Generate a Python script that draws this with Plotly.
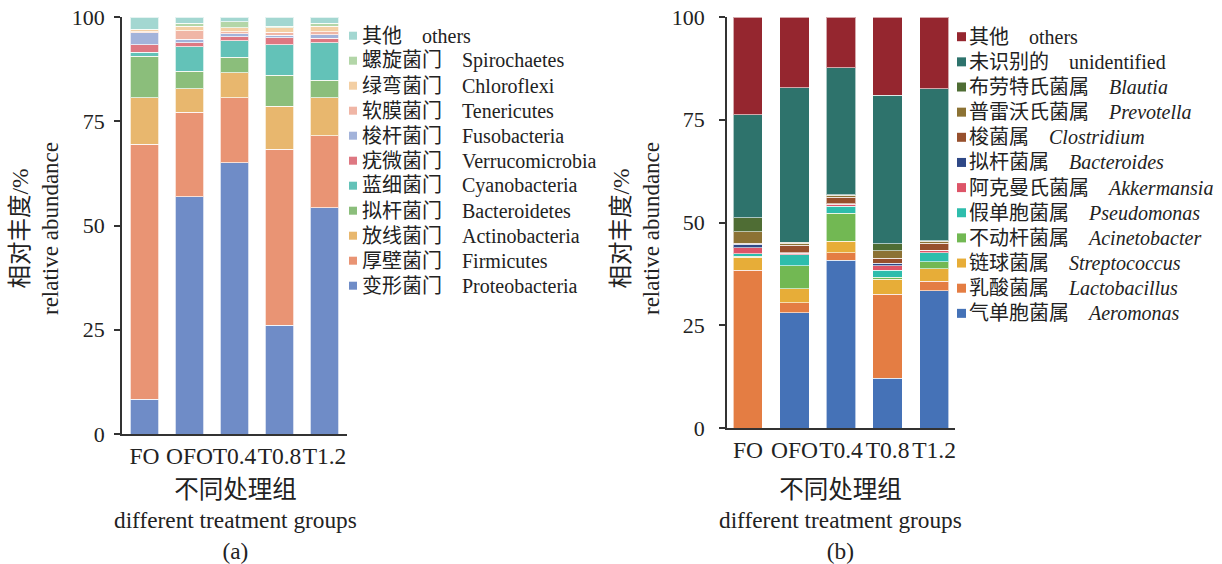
import plotly.graph_objects as go

W, H = 1222, 564

groups = ["FO", "OFO", "T0.4", "T0.8", "T1.2"]

# ---- panel (a): phyla, bottom -> top ----
phyla_cn = ["变形菌门", "厚壁菌门", "放线菌门", "拟杆菌门", "蓝细菌门", "疣微菌门",
            "梭杆菌门", "软膜菌门", "绿弯菌门", "螺旋菌门", "其他"]
phyla_en = ["Proteobacteria", "Firmicutes", "Actinobacteria", "Bacteroidetes",
            "Cyanobacteria", "Verrucomicrobia", "Fusobacteria", "Tenericutes",
            "Chloroflexi", "Spirochaetes", "others"]
proteobacteria = [8.3, 56.9, 65.1, 26.1, 54.3]
firmicutes = [61.2, 20.3, 15.5, 42.2, 17.2]
actinobacteria = [11.1, 5.6, 6.0, 10.3, 9.1]
bacteroidetes = [10.0, 4.2, 3.7, 7.4, 4.2]
cyanobacteria = [1.0, 5.9, 4.0, 7.4, 9.0]
verrucomicrobia = [1.8, 0.9, 1.0, 1.6, 1.1]
fusobacteria = [2.8, 0.9, 0.7, 0.6, 0.9]
tenericutes = [0.3, 2.0, 0.5, 0.8, 0.7]
chloroflexi = [0.4, 1.1, 0.9, 1.0, 1.3]
spirochaetes = [0.2, 0.7, 1.5, 0.4, 0.7]
others_a = [2.9, 1.5, 1.1, 2.2, 1.5]
phyla_vals = [proteobacteria, firmicutes, actinobacteria, bacteroidetes, cyanobacteria,
              verrucomicrobia, fusobacteria, tenericutes, chloroflexi, spirochaetes, others_a]
phyla_colors = ["#6F8CC7", "#E99474", "#E8B76E", "#8BBE7B", "#63C2B8", "#DE7882",
                "#A3B3DA", "#F0B6A6", "#F3CFA4", "#B3D6A8", "#A3D7D1"]

# ---- panel (b): genera, bottom -> top ----
genus_cn = ["气单胞菌属", "乳酸菌属", "链球菌属", "不动杆菌属", "假单胞菌属", "阿克曼氏菌属",
            "拟杆菌属", "梭菌属", "普雷沃氏菌属", "布劳特氏菌属", "未识别的", "其他"]
genus_en = ["<i>Aeromonas</i>", "<i>Lactobacillus</i>", "<i>Streptococcus</i>",
            "<i>Acinetobacter</i>", "<i>Pseudomonas</i>", "<i>Akkermansia</i>",
            "<i>Bacteroides</i>", "<i>Clostridium</i>", "<i>Prevotella</i>",
            "<i>Blautia</i>", "unidentified", "others"]
aeromonas = [0.0, 28.1, 40.8, 12.1, 33.4]
lactobacillus = [38.4, 2.4, 1.8, 20.5, 2.3]
streptococcus = [3.2, 3.4, 2.9, 3.6, 3.0]
acinetobacter = [0.2, 5.6, 6.8, 0.5, 1.7]
pseudomonas = [0.6, 2.6, 1.6, 1.7, 2.2]
akkermansia = [1.4, 0.4, 0.5, 1.1, 0.6]
bacteroides = [0.9, 0.1, 0.2, 0.6, 0.1]
clostridium = [0.3, 1.9, 1.6, 1.2, 1.7]
prevotella = [2.8, 0.5, 0.4, 1.8, 0.5]
blautia = [3.4, 0.2, 0.2, 1.7, 0.1]
unidentified = [25.0, 37.6, 30.8, 36.2, 36.9]
others_b = [23.8, 17.2, 12.4, 19.0, 17.5]
genus_vals = [aeromonas, lactobacillus, streptococcus, acinetobacter, pseudomonas,
              akkermansia, bacteroides, clostridium, prevotella, blautia,
              unidentified, others_b]
genus_colors = ["#4572B7", "#E47D43", "#E7AD38", "#72B853", "#2EBDAC", "#DD5568",
                "#2F4886", "#97502D", "#8C7234", "#4F6D34", "#2E736C", "#95262F"]

FONT = "Liberation Serif, Noto Sans CJK SC, serif"

fig = go.Figure()
for vals, col, en in zip(phyla_vals, phyla_colors, phyla_en):
    fig.add_trace(go.Bar(x=groups, y=vals, name=en, marker_color=col,
                         marker_line=dict(color="rgba(255,255,255,0.7)", width=1),
                         xaxis="x", yaxis="y", showlegend=False))
for vals, col, en in zip(genus_vals, genus_colors, genus_en):
    fig.add_trace(go.Bar(x=groups, y=vals, name=en, marker_color=col,
                         marker_line=dict(color="rgba(255,255,255,0.6)", width=1),
                         xaxis="x2", yaxis="y2", showlegend=False))

def px_x(p):
    return p / W

def px_y(p):
    return 1 - p / H

axis_common = dict(showline=True, linecolor="#333333", linewidth=1.5, showgrid=False,
                   zeroline=False, automargin=False)
xfont = dict(family=FONT, size=23.5, color="#222222")
yfont = dict(family=FONT, size=22, color="#222222")

fig.update_layout(
    width=W, height=H, margin=dict(l=0, r=0, t=0, b=0, autoexpand=False),
    paper_bgcolor="white", plot_bgcolor="white",
    barmode="stack", bargap=0.375,
    font=dict(family=FONT, color="#222222"),
    xaxis=dict(domain=[px_x(122), px_x(347)], range=[-0.5, 4.5], ticks="", tickangle=0,
               anchor="y", tickfont=xfont, **axis_common),
    yaxis=dict(domain=[px_y(434), px_y(17)], range=[0, 100], tickvals=[0, 25, 50, 75, 100],
               ticks="outside", ticklen=6, tickwidth=1.5, tickcolor="#333333",
               ticklabelstandoff=5, anchor="x", tickfont=yfont, **axis_common),
    xaxis2=dict(domain=[px_x(727), px_x(955)], range=[-0.45, 4.45], ticks="", tickangle=0,
                anchor="y2", tickfont=xfont, **axis_common),
    yaxis2=dict(domain=[px_y(428), px_y(17)], range=[0, 100], tickvals=[0, 25, 50, 75, 100],
                ticks="outside", ticklen=6, tickwidth=1.5, tickcolor="#333333",
                ticklabelstandoff=10, anchor="x2", tickfont=yfont, **axis_common),
)

ann = []
shapes = []

# axis titles
for cx, title_x in [(235, "(a)"), (840, "(b)")]:
    ann.append(dict(text="<span style='font-size:24.5px'>不同处理组</span><br>"
                         "different treatment groups<br>" + title_x,
                    x=px_x(cx), y=px_y(520), xref="paper", yref="paper",
                    xanchor="center", yanchor="middle", showarrow=False,
                    font=dict(family=FONT, size=23.3, color="#222222")))
for cx in [35, 636]:
    ann.append(dict(text="<span style='font-size:23.5px'>相对丰度/%</span><br>relative abundance",
                    textangle=-90,
                    x=px_x(cx), y=px_y(229), xref="paper", yref="paper",
                    xanchor="center", yanchor="middle", showarrow=False,
                    font=dict(family=FONT, size=23, color="#222222")))

# legends (top row = last series)
def legend(cn_list, en_list, colors, sq_x, sq_size, text_x, top_y, step):
    n = len(cn_list)
    for row, i in enumerate(range(n - 1, -1, -1)):
        yc = top_y + row * step
        shapes.append(dict(type="rect", xref="paper", yref="paper",
                           x0=px_x(sq_x), x1=px_x(sq_x + sq_size),
                           y0=px_y(yc + sq_size / 2), y1=px_y(yc - sq_size / 2),
                           fillcolor=colors[i], line=dict(width=0)))
        ann.append(dict(text=cn_list[i] + "\u3000" + en_list[i],
                        x=px_x(text_x), y=px_y(yc), xref="paper", yref="paper",
                        xanchor="left", yanchor="middle", showarrow=False,
                        font=dict(family=FONT, size=20, color="#222222")))

legend(phyla_cn, phyla_en, phyla_colors, 349, 8, 360, 35.7, 25.0)
legend(genus_cn, genus_en, genus_colors, 957, 9, 967, 36.7, 25.15)

fig.update_layout(annotations=ann, shapes=shapes)
fig.write_html("out.html")
